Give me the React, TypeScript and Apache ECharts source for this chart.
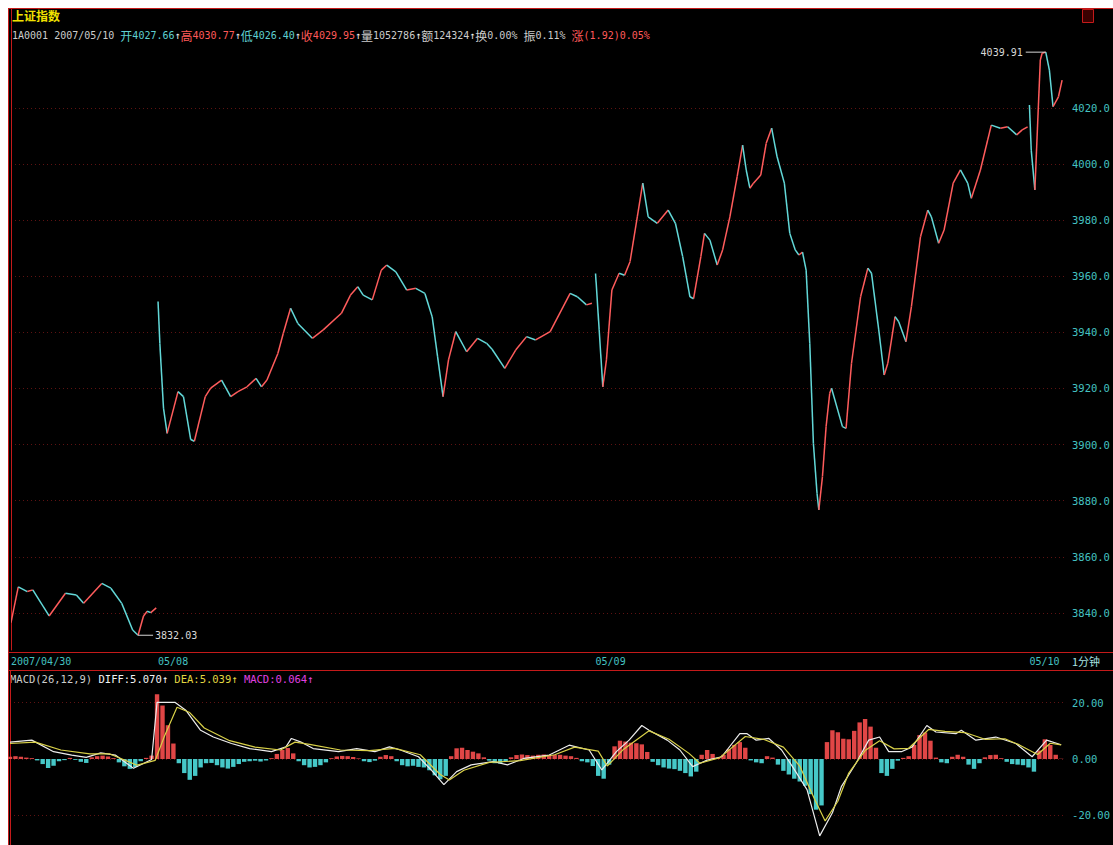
import React, { useEffect, useRef } from "react";
import * as echarts from "echarts";

// ---------- price data: [minute index, index level] ----------
const day0430: [number, number][] = [
  [0, 3836.5], [4, 3849.3], [9, 3847.6], [12, 3848.2], [21, 3838.9], [30, 3847.0],
  [36, 3846.4], [40, 3843.4], [50, 3850.5], [55, 3848.8], [61, 3843.4], [67, 3833.9],
  [70, 3832.03], [73, 3838.9], [75, 3840.6], [77, 3840.1], [80, 3841.8],
];
const day0508: [number, number][] = [
  [81, 3951.0], [82, 3936.0], [84, 3913.0], [86, 3904.0], [92, 3918.9], [95, 3917.1],
  [99, 3901.8], [101, 3901.2],
  [107, 3917.1], [110, 3920.1], [116, 3923.0], [121, 3917.1], [125, 3918.9], [130, 3920.6],
  [135, 3923.6], [138, 3920.6], [141, 3923.0], [147, 3932.5], [150, 3939.7], [154, 3948.6],
  [158, 3943.2], [166, 3937.9], [172, 3940.9], [182, 3946.8], [187, 3953.3], [191, 3956.3],
  [194, 3953.3], [199, 3951.6], [204, 3962.2], [207, 3964.0], [212, 3961.6], [218, 3955.1],
  [223, 3955.7], [228, 3953.9], [232, 3945.6], [235, 3931.3], [238, 3917.1], [241, 3930.2],
  [245, 3940.3], [251, 3933.1], [257, 3937.9], [262, 3936.1], [265, 3934.0], [272, 3927.2],
  [278, 3933.7], [284, 3938.5], [289, 3937.3], [297, 3940.3], [308, 3953.9], [312, 3952.7],
  [317, 3949.8], [320, 3950.4],
];
const day0509: [number, number][] = [
  [322, 3961.0], [324, 3940.9], [326, 3920.6], [328, 3930.2], [331, 3955.1], [335, 3961.1],
  [338, 3960.4], [341, 3965.2], [345, 3981.2], [348, 3993.2], [351, 3981.2], [356, 3978.9],
  [362, 3983.6], [366, 3978.9], [370, 3967.0], [374, 3952.7], [376, 3952.0], [380, 3967.0],
  [382, 3975.3], [385, 3972.9], [389, 3964.0], [392, 3969.4], [396, 3981.2], [400, 3995.5],
  [403, 4006.8], [405, 3997.9], [407, 3991.4], [409, 3993.2], [413, 3996.1], [416, 4007.4],
  [419, 4012.8], [422, 4002.6], [426, 3993.2], [429, 3975.3], [432, 3969.4], [434, 3967.6],
  [436, 3968.6], [438, 3962.2], [440, 3936.1], [442, 3900.5], [444, 3882.6], [445, 3876.7],
  [447, 3888.6], [449, 3906.4], [451, 3918.3], [452, 3920.1], [458, 3906.4], [460, 3905.8],
  [463, 3929.0], [468, 3952.7], [472, 3962.9], [474, 3961.1], [478, 3940.9], [481, 3924.8],
  [483, 3929.0], [487, 3945.6], [489, 3943.8], [493, 3936.7], [496, 3949.2], [501, 3974.1],
  [505, 3983.6], [507, 3981.2], [511, 3971.8], [514, 3976.5], [519, 3993.2], [523, 3997.9],
  [527, 3993.2], [529, 3987.8], [534, 3997.9], [538, 4008.6], [540, 4013.9], [545, 4012.8],
  [549, 4013.3], [554, 4010.4], [557, 4012.2], [560, 4013.3],
];
const day0510: [number, number][] = [
  [561, 4021.1], [562, 4005.0], [564, 3990.8], [567, 4037.1], [568, 4039.5], [570, 4039.91],
  [572, 4033.5], [574, 4020.5], [577, 4024.0], [579, 4029.95],
];
const priceDays = [day0430, day0508, day0509, day0510];

// ---------- axis labels ----------
const dayStartMinutes = [0, 81, 322, 561];
const dayLabels = ["2007/04/30", "05/08", "05/09", "05/10"];
const priceTicks = [3840, 3860, 3880, 3900, 3920, 3940, 3960, 3980, 4000, 4020];
const macdTicks = [-20, 0, 20];

// ---------- MACD data ----------
const histStepMinutes = 3;
const macdHist = [
  0.8, 1.0, 0.8, 0.5, 0.3, -0.5, -1.8, -3.2, -2.4, -0.8,
  -0.4, 0.4, -0.3, -1.0, -1.4, 0.6, 1.0, 1.2, 0.9, 0.3,
  -1.2, -2.6, -3.5, -2.8, -0.8, 0.4, 1.2, 23.0, 19.0, 12.0,
  5.5, -1.5, -5.0, -7.4, -6.0, -3.0, -1.5, -1.4, -2.2, -3.0,
  -3.4, -2.8, -1.8, -1.0, -0.8, -0.6, -0.9, -0.5, 0.3, 1.8,
  3.2, 3.9, 2.0, -0.8, -2.2, -3.0, -2.8, -2.2, -1.2, 0.3,
  0.9, 1.1, 1.0, 0.7, 0.2, -0.8, -1.1, -0.6, 0.8, 1.4,
  1.0, -0.8, -2.2, -2.6, -2.4, -2.8, -3.0, -4.0, -5.8, -7.2,
  -6.0, 1.0, 3.8, 4.0, 3.2, 2.6, 2.0, 0.6, -0.6, -1.5,
  -1.6, -0.8, 0.6, 1.4, 1.6, 1.4, 1.2, 1.5, 1.6, 1.3,
  1.4, 1.5, 1.2, 1.0, 0.4, -0.8, -1.2, -2.5, -6.0, -7.0,
  -2.0, 4.5, 6.5, 6.2, 5.8, 5.6, 5.2, 2.5, -1.0, -2.2,
  -3.0, -3.4, -3.6, -4.2, -5.0, -6.2, -4.5, 1.5, 3.2, 1.8,
  0.4, 1.5, 3.5, 5.0, 6.0, 4.0, -0.5, -1.2, -1.5, 1.0,
  0.5, -2.0, -4.2, -5.5, -7.0, -8.0, -9.5, -12.5, -18.0, -16.5,
  6.0, 10.2, 9.5, 7.2, 7.0, 10.0, 13.0, 14.2, 11.5, 4.0,
  -5.0, -6.0, -3.5, -0.6, 0.4, 1.0, 5.0, 8.5, 9.4, 6.5,
  0.5, -1.2, -1.5, 0.8, 1.5, 0.8, -2.0, -3.5, -1.5, 0.6,
  1.4, 1.5, 0.3, -1.0, -1.8, -2.0, -2.2, -3.0, -4.5, 3.0,
  7.0, 5.0, 1.5, 0.1,
];
const diffLine: [number, number][] = [
  [0, 6.0], [12, 6.7], [24, 2.6], [34, 1.4], [42, 0.6], [50, 2.2], [58, 1.4], [68, -3.3],
  [78, -0.2], [81, 20.1], [91, 20.1], [97, 17.2], [105, 10.2], [112, 7.8], [122, 5.5],
  [132, 3.7], [144, 2.6], [152, 4.3], [155, 7.3], [160, 6.1], [167, 3.7], [181, 2.6],
  [191, 3.7], [201, 2.6], [209, 4.3], [215, 3.2], [225, 0.8], [232, -3.9], [239, -9.1],
  [246, -4.5], [254, -2.1], [266, -0.9], [274, -2.1], [283, 0.2], [297, 1.4], [308, 4.9],
  [319, 3.2], [326, -3.9], [334, 2.6], [341, 6.7], [348, 11.9], [352, 10.2], [362, 6.7],
  [369, 3.2], [376, -2.7], [384, -0.4], [392, 0.8], [402, 9.0], [406, 9.0], [411, 6.7],
  [418, 7.3], [425, 3.2], [431, -2.7], [439, -10.9], [446, -27.3], [453, -19.1], [458, -9.7],
  [466, -1.5], [473, 6.7], [479, 7.8], [484, 2.6], [491, 2.6], [497, 4.3], [505, 11.9],
  [510, 9.6], [521, 9.0], [524, 10.2], [532, 6.7], [543, 7.8], [554, 5.5], [563, 0.8],
  [571, 6.7], [579, 5.07],
];
const deaLine: [number, number][] = [
  [0, 5.5], [14, 6.0], [28, 3.2], [44, 1.8], [55, 1.8], [70, -2.2], [80, -0.5], [85, 8.0],
  [92, 18.4], [99, 16.5], [107, 11.0], [121, 6.5], [135, 4.2], [149, 3.2], [157, 6.0],
  [165, 5.2], [182, 3.2], [198, 3.0], [212, 3.8], [226, 1.5], [237, -5.5], [242, -7.5],
  [250, -4.0], [264, -1.2], [281, -0.6], [300, 1.5], [311, 4.2], [324, 2.8], [329, -2.5],
  [338, 3.5], [352, 10.0], [363, 7.0], [374, 2.0], [380, -1.5], [391, 0.5], [405, 8.0],
  [415, 7.0], [426, 4.2], [435, -2.5], [443, -14.0], [449, -22.0], [456, -15.0], [462, -5.0],
  [471, 3.0], [479, 6.5], [487, 3.6], [495, 3.8], [506, 10.5], [515, 9.8], [526, 9.4],
  [537, 7.0], [548, 7.2], [556, 5.0], [566, 1.6], [573, 5.6], [579, 5.04],
];

// ---------- header texts ----------
const stockName = "上证指数";
const stockCode = "1A0001";
const quoteDate = "2007/05/10";
const quoteOpen = "4027.66";
const quoteHigh = "4030.77";
const quoteLow = "4026.40";
const quoteClose = "4029.95";
const quoteVolume = "1052786";
const quoteAmount = "124324";
const quoteTurnover = "0.00%";
const quoteAmplitude = "0.11%";
const quoteChange = "(1.92)0.05%";
const macdParams = "MACD(26,12,9)";
const macdDiff = "5.070";
const macdDea = "5.039";
const macdBar = "0.064";
const periodLabel = "1分钟";

const RED = "#ff5c5c";
const CYAN = "#62d8d8";
const FRAME = "#c41a1a";
const GRIDLINE = "#5e1212";
const AXIS_TXT = "#44c2c2";
const MONO = "'DejaVu Sans Mono', 'Liberation Mono', monospace";
const CJK = "'Noto Sans CJK SC', sans-serif";

function buildOption(): echarts.EChartsCoreOption {
  const segs: number[][] = [];
  priceDays.forEach((day) => {
    let dir = 1;
    for (let i = 1; i < day.length; i++) {
      const [m0, p0] = day[i - 1];
      const [m1, p1] = day[i];
      if (p1 > p0) dir = 1;
      else if (p1 < p0) dir = -1;
      segs.push([m0, p0, m1, p1, dir]);
    }
  });
  const all = priceDays.flat();
  let hi = all[0];
  let lo = all[0];
  all.forEach((pt) => {
    if (pt[1] > hi[1]) hi = pt;
    if (pt[1] < lo[1]) lo = pt;
  });
  const extremes = [
    [hi[0], hi[1], 1],
    [lo[0], lo[1], 0],
  ];

  const headerRich =
    `{g|${stockCode} ${quoteDate} }` +
    `{ck|开}{c|${quoteOpen}}{w|↑}` +
    `{rk|高}{r|${quoteHigh}}{w|↑}` +
    `{ck|低}{c|${quoteLow}}{w|↑}` +
    `{rk|收}{r|${quoteClose}}{w|↑}` +
    `{gk|量}{g|${quoteVolume}}{w|↑}` +
    `{gk|额}{g|${quoteAmount}}{w|↑}` +
    `{gk|换}{g|${quoteTurnover} }` +
    `{gk|振}{g|${quoteAmplitude} }` +
    `{rk|涨}{r|${quoteChange}}`;

  const macdRich =
    `{g|${macdParams} }{w|DIFF:${macdDiff}↑ }{y|DEA:${macdDea}↑ }{m|MACD:${macdBar}↑}`;

  const asc = (color: string) => ({ fill: color, fontSize: 10, fontFamily: MONO });
  const cjk = (color: string) => ({ fill: color, fontSize: 12, fontFamily: CJK });

  return {
    backgroundColor: "#000000",
    animation: false,
    grid: [
      { left: 2, top: 0, width: 1057, height: 642 },
      { left: 2, top: 663, width: 1057, height: 174 },
    ],
    xAxis: [
      {
        type: "value",
        gridIndex: 0,
        min: 0,
        max: 581.7,
        axisLine: { show: false, onZero: false },
        axisTick: { show: false, customValues: dayStartMinutes },
        splitLine: { show: false },
        axisLabel: {
          customValues: dayStartMinutes,
          formatter: (v: number) => {
            const i = dayStartMinutes.indexOf(v);
            return i >= 0 ? dayLabels[i] : "";
          },
          color: AXIS_TXT,
          fontFamily: MONO,
          fontSize: 10,
          align: "left",
          margin: 6,
        },
      },
      {
        type: "value",
        gridIndex: 1,
        min: 0,
        max: 581.7,
        show: false,
      },
    ],
    yAxis: [
      {
        type: "value",
        gridIndex: 0,
        position: "right",
        min: 3826.77,
        max: 4055.65,
        axisLine: { show: true, lineStyle: { color: FRAME, width: 1 } },
        axisTick: { show: false, customValues: priceTicks },
        axisLabel: {
          customValues: priceTicks,
          formatter: (v: number) => v.toFixed(1),
          color: AXIS_TXT,
          fontFamily: MONO,
          fontSize: 10.5,
          margin: 5,
        },
        splitLine: { show: true, lineStyle: { color: GRIDLINE, type: [1, 3], width: 1 } },
      },
      {
        type: "value",
        gridIndex: 1,
        position: "right",
        min: -30.55,
        max: 31.26,
        axisLine: { show: true, lineStyle: { color: FRAME, width: 1 } },
        axisTick: { show: false, customValues: macdTicks },
        axisLabel: {
          customValues: macdTicks,
          formatter: (v: number) => v.toFixed(2),
          color: AXIS_TXT,
          fontFamily: MONO,
          fontSize: 10.5,
          margin: 6,
        },
        splitLine: { show: true, lineStyle: { color: GRIDLINE, type: [1, 3], width: 1 } },
      },
    ],
    series: [
      {
        type: "custom",
        name: "price",
        xAxisIndex: 0,
        yAxisIndex: 0,
        clip: true,
        data: segs,
        encode: { x: [0, 2], y: [1, 3] },
        renderItem: (_p: any, api: any) => {
          const a = api.coord([api.value(0), api.value(1)]);
          const b = api.coord([api.value(2), api.value(3)]);
          return {
            type: "line",
            shape: { x1: a[0], y1: a[1], x2: b[0], y2: b[1] },
            style: { stroke: api.value(4) > 0 ? RED : CYAN, lineWidth: 1.5 },
          };
        },
      },
      {
        type: "custom",
        name: "extremes",
        xAxisIndex: 0,
        yAxisIndex: 0,
        data: extremes,
        encode: { x: 0, y: 1 },
        renderItem: (_p: any, api: any) => {
          const p = api.coord([api.value(0), api.value(1)]);
          const isHigh = api.value(2) > 0;
          const x2 = isHigh ? p[0] - 20 : p[0] + 15;
          return {
            type: "group",
            children: [
              {
                type: "line",
                shape: { x1: p[0], y1: p[1], x2, y2: p[1] },
                style: { stroke: "#d6d6d6", lineWidth: 1 },
              },
              {
                type: "text",
                style: {
                  text: Number(api.value(1)).toFixed(2),
                  x: isHigh ? x2 - 3 : x2 + 2,
                  y: p[1],
                  fill: "#d8d8d8",
                  font: `10px ${MONO}`,
                  align: isHigh ? "right" : "left",
                  verticalAlign: "middle",
                },
              },
            ],
          };
        },
      },
      {
        type: "bar",
        name: "MACD",
        xAxisIndex: 1,
        yAxisIndex: 1,
        barWidth: 4.4,
        data: macdHist.map((v, i) => [i * histStepMinutes, v]),
        itemStyle: {
          color: (params: any) => (params.value[1] >= 0 ? "#e04646" : "#46c8c8"),
        },
      },
      {
        type: "line",
        name: "DIFF",
        xAxisIndex: 1,
        yAxisIndex: 1,
        data: diffLine,
        showSymbol: false,
        lineStyle: { color: "#ececec", width: 1.2 },
      },
      {
        type: "line",
        name: "DEA",
        xAxisIndex: 1,
        yAxisIndex: 1,
        data: deaLine,
        showSymbol: false,
        lineStyle: { color: "#d8d048", width: 1.2 },
      },
    ],
    graphic: [
      { type: "line", shape: { x1: 0, y1: 0.5, x2: 1105, y2: 0.5 }, style: { stroke: FRAME, lineWidth: 1 } },
      { type: "line", shape: { x1: 0.5, y1: 0, x2: 0.5, y2: 837 }, style: { stroke: FRAME, lineWidth: 1 } },
      { type: "line", shape: { x1: 0, y1: 644.5, x2: 1105, y2: 644.5 }, style: { stroke: FRAME, lineWidth: 1 } },
      { type: "line", shape: { x1: 0, y1: 662.5, x2: 1105, y2: 662.5 }, style: { stroke: FRAME, lineWidth: 1 } },
      {
        type: "rect",
        shape: { x: 1074.5, y: 1.5, width: 11, height: 13 },
        style: { fill: "#3a0000", stroke: FRAME, lineWidth: 1 },
      },
      {
        type: "text",
        x: 4,
        y: 1,
        style: { text: stockName, fill: "#f2e200", font: `bold 12px ${CJK}` },
      },
      {
        type: "text",
        x: 4,
        y: 21,
        style: {
          text: headerRich,
          font: `10px ${MONO}`,
          fill: "#c8c8c8",
          rich: {
            g: asc("#cccccc"),
            w: asc("#f0f0f0"),
            c: asc("#5fd0d0"),
            r: asc("#ff5a5a"),
            gk: cjk("#cccccc"),
            ck: cjk("#5fd0d0"),
            rk: cjk("#ff5a5a"),
          },
        },
      },
      {
        type: "text",
        x: 2,
        y: 665,
        style: {
          text: macdRich,
          font: `10.5px ${MONO}`,
          fill: "#cccccc",
          rich: {
            g: { fill: "#cccccc", fontSize: 10.5, fontFamily: MONO },
            w: { fill: "#f2f2f2", fontSize: 10.5, fontFamily: MONO },
            y: { fill: "#e2d640", fontSize: 10.5, fontFamily: MONO },
            m: { fill: "#e040e0", fontSize: 10.5, fontFamily: MONO },
          },
        },
      },
      {
        type: "text",
        x: 1064,
        y: 653,
        style: {
          text: periodLabel,
          fill: "#a6e2e2",
          font: `11px ${CJK}`,
          verticalAlign: "middle",
        },
      },
    ],
  };
}

export default function App() {
  const ref = useRef<HTMLDivElement>(null);
  useEffect(() => {
    document.documentElement.style.overflow = "hidden";
    document.body.style.overflow = "hidden";
    if (!ref.current) return;
    const chart = echarts.init(ref.current, undefined, { renderer: "svg" });
    chart.setOption(buildOption());
    return () => {
      chart.dispose();
    };
  }, []);
  return (
    <div
      ref={ref}
      style={{ position: "absolute", left: 8, top: 8, width: 1105, height: 837, background: "#000" }}
    />
  );
}
